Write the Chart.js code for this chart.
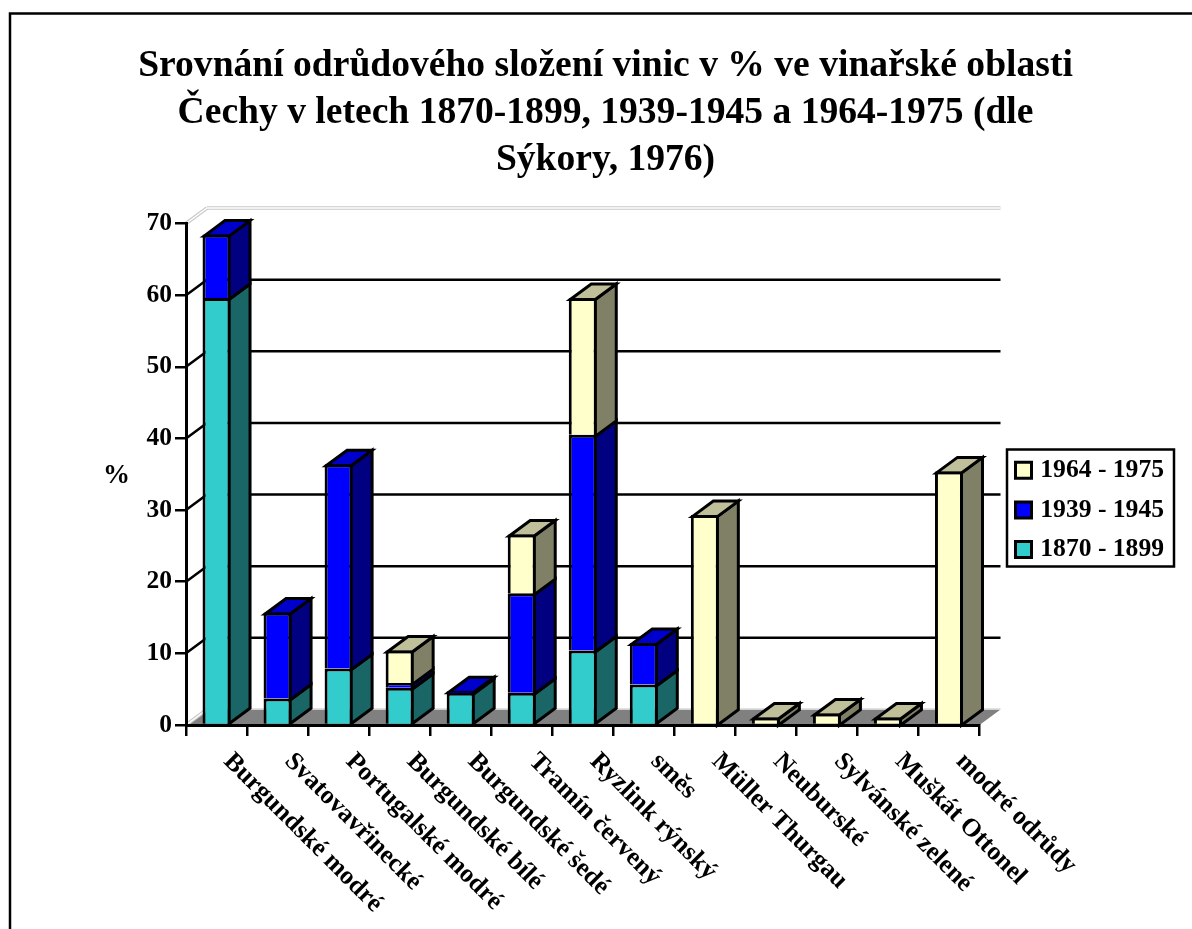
<!DOCTYPE html>
<html><head><meta charset="utf-8">
<style>html,body{margin:0;padding:0;background:#fff;overflow:hidden}canvas{display:block}</style>
<script src="https://cdn.jsdelivr.net/npm/chart.js@4/dist/chart.umd.min.js"></script>
</head><body><canvas id="c" width="1192" height="929"></canvas>
<script>
const categories = ["Burgundské modré","Svatovavřinecké","Portugalské modré","Burgundské bílé","Burgundské šedé","Tramín červený","Ryzlink rýnský","směs","Müller Thurgau","Neuburské","Sylvánské zelené","Muškát Ottonel","modré odrůdy"];
const series1870 = [59.6,3.7,7.9,5.2,4.5,4.5,10.4,5.65,null,null,null,null,null];
const series1939 = [8.85,12.0,28.5,0.65,0.2,13.9,30.1,5.8,null,null,null,null,null];
const series1964 = [null,null,null,4.55,null,8.2,19.1,null,29.3,1.05,1.6,1.05,35.4];
const seriesNames = ["1870 - 1899","1939 - 1945","1964 - 1975"];
const titleLines = ["Srovnání odrůdového složení vinic v % ve vinařské oblasti","Čechy v letech 1870-1899, 1939-1945 a 1964-1975 (dle","Sýkory, 1976)"];
const yTitle = "%";
const FONT = '"Liberation Serif","Times New Roman",serif';
const LW = 3, GW = 2.5, DX = 21, DY = 15.5;
const faces = [{front:'#33CCCC',side:'#1A6666',top:'#269999'},{front:'#0000FF',side:'#000080',top:'#0000CC'},{front:'#FFFFCC',side:'#808066',top:'#BFBF99'}];

function poly(ctx,pts,fill,stroke,lw){
  ctx.beginPath();pts.forEach((p,i)=>i?ctx.lineTo(p[0],p[1]):ctx.moveTo(p[0],p[1]));
  ctx.closePath();
  if(fill){ctx.fillStyle=fill;ctx.fill();}
  if(stroke){ctx.strokeStyle=stroke;ctx.lineWidth=lw;ctx.lineJoin='miter';ctx.stroke();}
}
const look3d = {
  id:'look3d',
  afterLayout(chart){
    const t=chart.titleBlock; t.left=19; t.right=1192; t.width=1173;
    const l=chart.legend; l.left=1001.5; l.right=1164; l.top=443.5; l.bottom=581; l.width=162; l.height=137;
  },
  beforeDraw(chart){
    const {ctx,scales:{x,y}}=chart; const a=chart.chartArea;
    ctx.save();
    ctx.strokeStyle='#000';ctx.lineWidth=2.5;ctx.strokeRect(10,13.5,2000,2000);
    const y0=y.getPixelForValue(0);
    poly(ctx,[[a.left,y0],[a.right,y0],[a.right+DX,y0-DY],[a.left+DX,y0-DY]],'#808080');
    y.ticks.forEach(tk=>{
      const py=y.getPixelForValue(tk.value);
      const diag=()=>{ctx.beginPath();ctx.moveTo(a.left,py);ctx.lineTo(a.left+DX,py-DY);};
      const flat=()=>{ctx.beginPath();ctx.moveTo(a.left+DX,py-DY);ctx.lineTo(a.right+DX,py-DY);};
      const dbl=p=>{p();ctx.strokeStyle='#C8C8C8';ctx.lineWidth=3.5;ctx.stroke();p();ctx.strokeStyle='#FFFFFF';ctx.lineWidth=1.5;ctx.stroke();};
      if(tk.value===70){dbl(diag);dbl(flat);}
      else if(tk.value===0){
        dbl(diag);
        ctx.beginPath();ctx.moveTo(a.left+DX,py-DY-0.5);ctx.lineTo(a.right+DX,py-DY-0.5);
        ctx.strokeStyle='#D8D8D8';ctx.lineWidth=1.5;ctx.stroke();
      }else{
        ctx.beginPath();ctx.moveTo(a.left,py);ctx.lineTo(a.left+DX,py-DY);ctx.lineTo(a.right+DX,py-DY);
        ctx.strokeStyle='#000';ctx.lineWidth=GW;ctx.stroke();
      }
    });
    ctx.strokeStyle='#000';ctx.lineWidth=2.5;ctx.strokeRect(1007,449.5,167,117);
    ctx.fillStyle='#000';ctx.font='bold 27px '+FONT;ctx.textAlign='center';ctx.textBaseline='middle';
    ctx.fillText(yTitle,116.5,476);
    ctx.font='bold 25.8px '+FONT;ctx.textAlign='left';
    categories.forEach((c,i)=>{
      ctx.save();ctx.translate(x.getPixelForValue(i)+11,757.5);ctx.rotate(45*Math.PI/180);
      ctx.fillText(c,0,0);ctx.restore();
    });
    ctx.restore();
  },
  beforeDatasetsDraw(chart){
    const ctx=chart.ctx;ctx.save();
    const h=LW/2;
    categories.forEach((c,i)=>{
      let topIdx=-1;
      chart.data.datasets.forEach((d,k)=>{if(d.data[i]!=null)topIdx=k;});
      chart.data.datasets.forEach((d,k)=>{
        if(d.data[i]==null)return;
        const b=chart.getDatasetMeta(k).data[i];
        const r=b.x+b.width/2-h,l=b.x-b.width/2+h,t=b.y+h,bs=k===0?b.base:b.base+h;
        poly(ctx,[[r,bs],[r+DX,bs-DY],[r+DX,t-DY],[r,t]],faces[k].side,'#000',LW);
        if(k===topIdx)poly(ctx,[[l,t],[l+DX,t-DY],[r+DX,t-DY],[r,t]],faces[k].top,'#000',LW);
      });
    });
    ctx.restore();
  }
};
const mk=(i,vals)=>({label:seriesNames[i],data:vals,backgroundColor:faces[i].front,borderColor:'#000',borderWidth:LW,borderSkipped:'start',barPercentage:0.459,categoryPercentage:1});
new Chart(document.getElementById('c'),{
  type:'bar',
  data:{labels:categories,datasets:[mk(0,series1870),mk(1,series1939),mk(2,series1964)]},
  plugins:[look3d],
  options:{
    responsive:false,animation:false,devicePixelRatio:1,
    layout:{padding:{left:0,right:212.5,top:0,bottom:0}},
    plugins:{
      tooltip:{enabled:false},
      title:{display:true,text:titleLines,color:'#000',font:{family:FONT,size:37.6,weight:'bold',lineHeight:1.25},padding:{top:43,bottom:39.5}},
      legend:{position:'chartArea',align:'start',reverse:true,
        labels:{color:'#000',font:{family:FONT,size:25.6,weight:'bold',lineHeight:1},boxWidth:16,boxHeight:16,padding:14,textAlign:'right'}}
    },
    scales:{
      x:{stacked:true,afterFit:s=>{s.height=204;},
        grid:{display:true,drawOnChartArea:false,drawTicks:true,tickLength:11,color:'#000',lineWidth:GW,offset:true},
        border:{display:true,color:'#000',width:LW},
        ticks:{display:false}},
      y:{stacked:true,min:0,max:70,afterFit:s=>{s.width=186;},
        grid:{display:true,drawOnChartArea:false,drawTicks:true,tickLength:11,color:'#000',lineWidth:GW},
        border:{display:true,color:'#000',width:LW},
        ticks:{stepSize:10,color:'#000',padding:3,font:{family:FONT,size:25.5,weight:'bold'}}}
    }
  }
});
</script></body></html>
